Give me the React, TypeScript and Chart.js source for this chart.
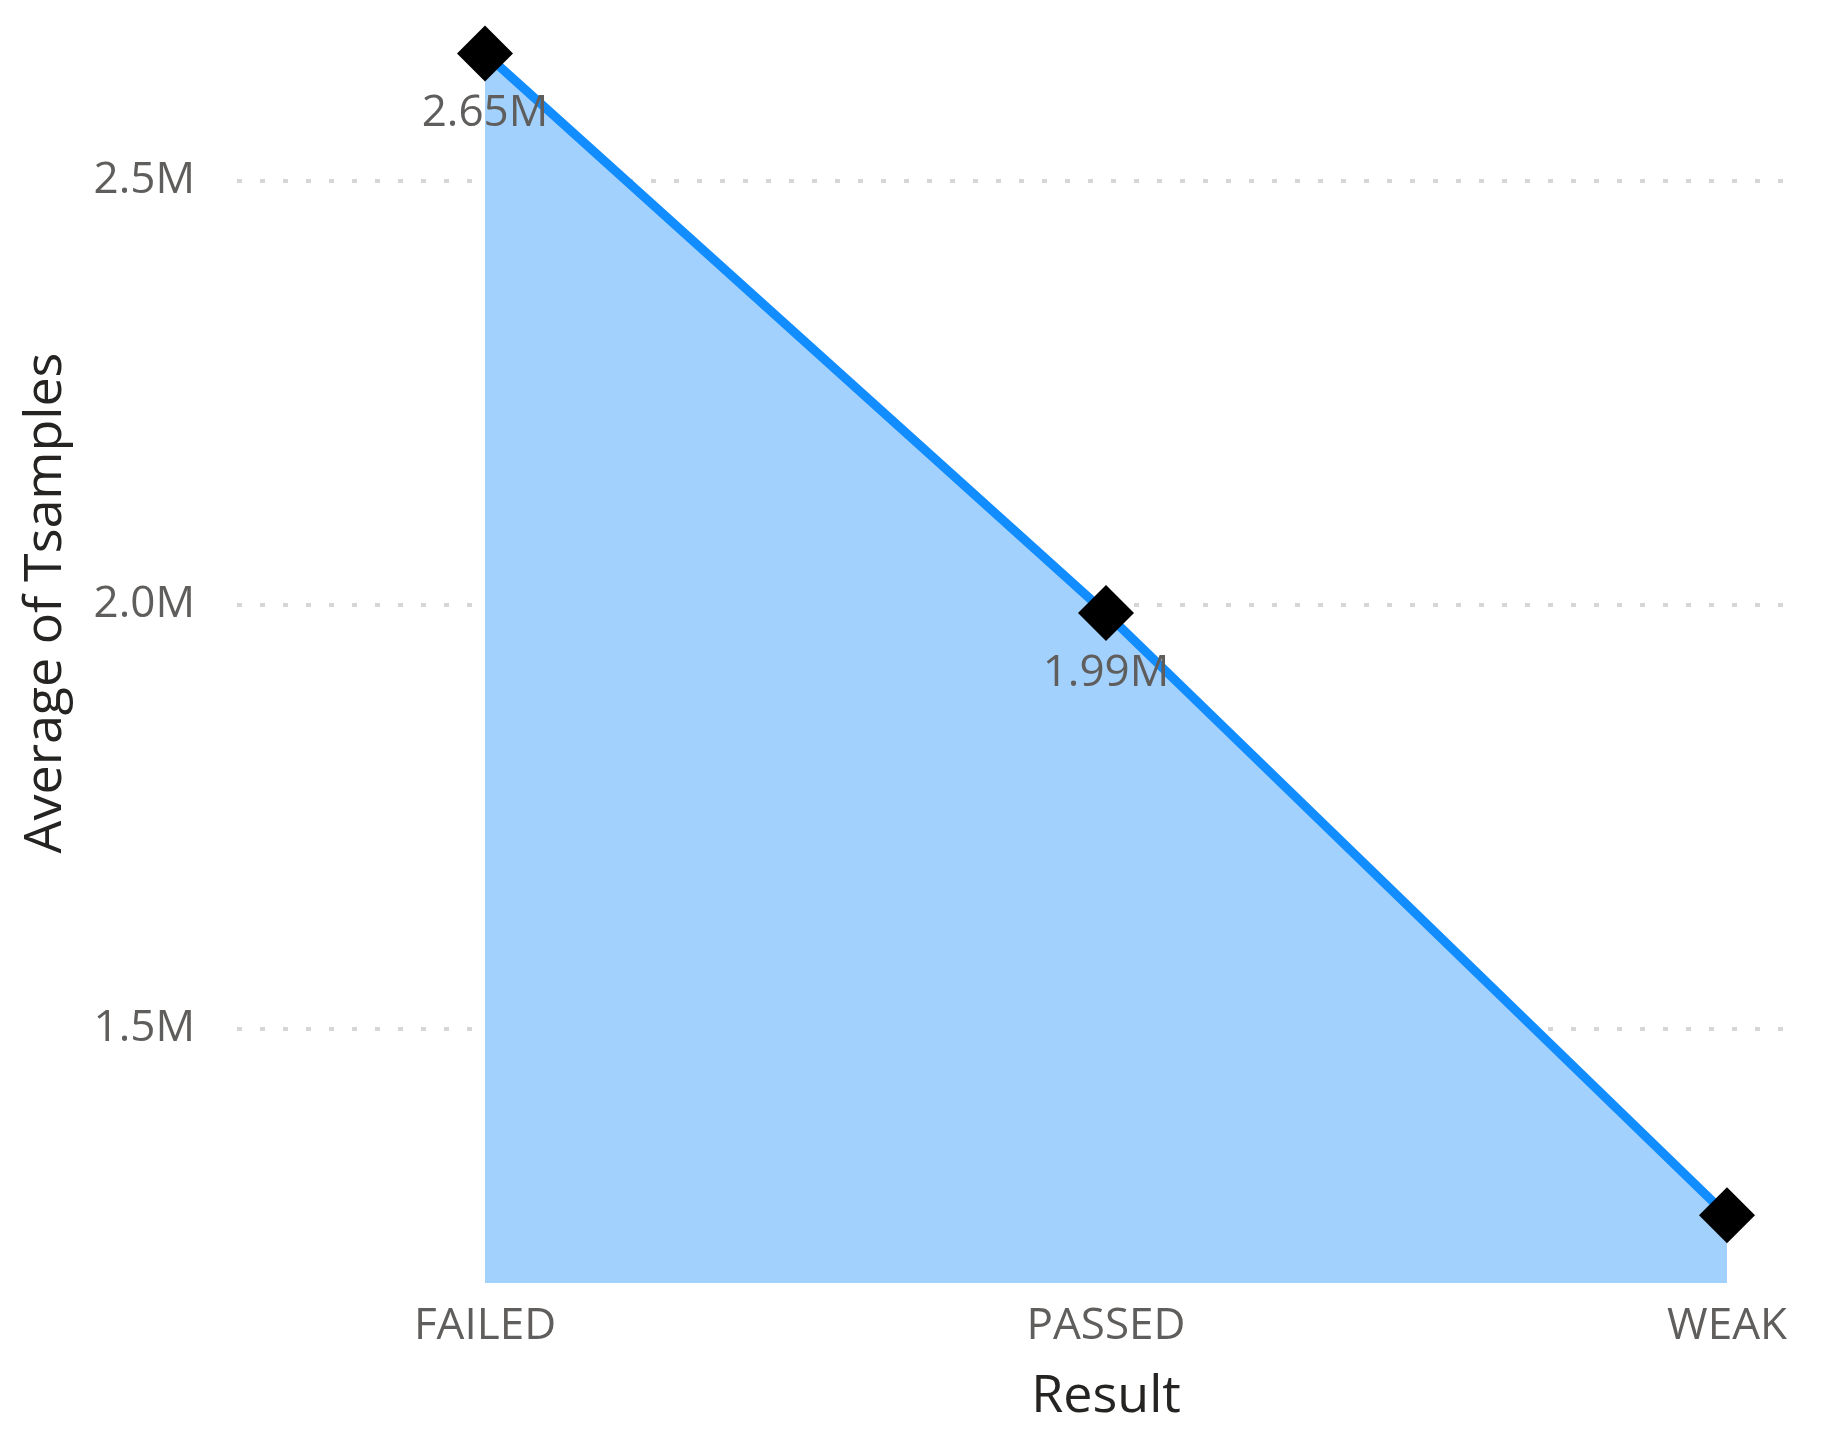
import React, { useEffect, useRef } from "react";
import { Chart, registerables } from "chart.js";

Chart.register(...registerables);

const categories = ["FAILED", "PASSED", "WEAK"];
const values = [2650000, 1990000, 1280000];
const showLabel = [true, true, false];
const yTicks = [1500000, 2000000, 2500000];
const yMin = 1200000;
const yMax = 2700000;
const xMin = -0.4074;
const xMax = 2.1176;
const xTitle = "Result";
const yTitle = "Average of Tsamples";

const FONT = '"Open Sans", "Noto Sans", sans-serif';

const fmtTick = (v: number) => (v / 1e6).toFixed(1) + "M";
const fmtLabel = (v: number) => (v / 1e6).toFixed(2) + "M";

export default function App() {
  const ref = useRef<HTMLCanvasElement | null>(null);

  useEffect(() => {
    document.body.style.margin = "0";
    const canvas = ref.current!;
    const labelPlugin = {
      id: "labelsAndTitles",
      afterDatasetsDraw(chart: any) {
        const ctx = chart.ctx;
        const meta = chart.getDatasetMeta(0);
        ctx.save();
        ctx.font = `44px ${FONT}`;
        ctx.fillStyle = "#605E5C";
        ctx.textAlign = "center";
        ctx.textBaseline = "middle";
        meta.data.forEach((pt: any, i: number) => {
          if (showLabel[i]) ctx.fillText(fmtLabel(values[i]), pt.x, pt.y + 60);
        });
        ctx.restore();
      },
      afterDraw(chart: any) {
        const ctx = chart.ctx;
        const xs = chart.scales.x;
        ctx.save();
        ctx.font = `52px ${FONT}`;
        ctx.fillStyle = "#252423";
        ctx.textAlign = "center";
        ctx.textBaseline = "middle";
        const cx = (xs.getPixelForValue(0) + xs.getPixelForValue(categories.length - 1)) / 2;
        ctx.fillText(xTitle, cx, 1397);
        ctx.translate(46, 603);
        ctx.rotate(-Math.PI / 2);
        ctx.fillText(yTitle, 0, 0);
        ctx.restore();
      },
    };

    const chart = new Chart(canvas, {
      type: "line",
      data: {
        datasets: [
          {
            data: values.map((v, i) => ({ x: i, y: v })),
            borderColor: "#118DFF",
            borderWidth: 9,
            backgroundColor: "#A3D1FD",
            fill: "start",
            tension: 0,
            pointStyle: "rectRot",
            pointRadius: 28,
            pointBackgroundColor: "#000000",
            pointBorderColor: "#000000",
            pointBorderWidth: 0,
            clip: false as any,
          },
        ],
      },
      options: {
        responsive: false,
        animation: false,
        devicePixelRatio: 1,
        layout: { autoPadding: false, padding: { top: 11, left: 0, right: 21, bottom: 0 } },
        plugins: {
          legend: { display: false },
          tooltip: { enabled: false },
        },
        scales: {
          x: {
            type: "linear",
            min: xMin,
            max: xMax,
            afterBuildTicks: (s: any) => {
              s.ticks = categories.map((_, i) => ({ value: i }));
            },
            afterFit: (s: any) => {
              s.height = 154;
              s.paddingLeft = 0;
              s.paddingRight = 0;
              s.paddingTop = 0;
              s.paddingBottom = 0;
            },
            grid: { display: false, drawTicks: false },
            border: { display: false },
            ticks: {
              autoSkip: false,
              maxRotation: 0,
              padding: 17,
              color: "#605E5C",
              font: { family: FONT, size: 44 },
              callback: (v: any) => categories[v as number] ?? "",
            },
          },
          y: {
            type: "linear",
            min: yMin,
            max: yMax,
            afterBuildTicks: (s: any) => {
              s.ticks = yTicks.map((v) => ({ value: v }));
            },
            afterFit: (s: any) => {
              s.width = 232;
              s.paddingLeft = 0;
              s.paddingRight = 0;
              s.paddingTop = 0;
              s.paddingBottom = 0;
            },
            grid: {
              color: "#D6D6D6",
              lineWidth: 4,
              drawTicks: false,
            },
            border: { display: false, dash: [5, 18], dashOffset: -5 },
            ticks: {
              padding: 37,
              color: "#605E5C",
              font: { family: FONT, size: 44 },
              callback: (v: any) => fmtTick(v as number),
            },
          },
        },
      },
      plugins: [labelPlugin],
    });
    return () => chart.destroy();
  }, []);

  return (
    <div style={{ width: 1821, height: 1437, background: "#ffffff" }}>
      <canvas ref={ref} width={1821} height={1437} style={{ display: "block", width: 1821, height: 1437 }} />
    </div>
  );
}
